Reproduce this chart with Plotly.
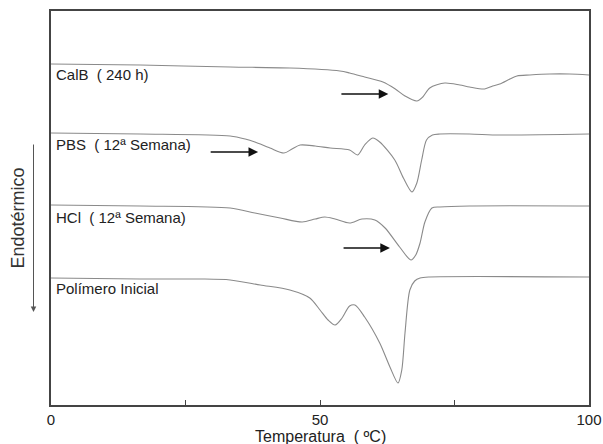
import plotly.graph_objects as go

# Temperature (ºC) and heat flow (arbitrary units, curves stacked)
t_calb = [0, 16.6, 33.3, 44.4, 53.7, 55.5, 58.3, 61.7, 64.0, 65.8, 68.0, 69.1, 70.4, 73.2, 76.0, 77.8, 80.6, 82.1, 83.4, 85.3, 86.6, 89.0, 92.7, 96.4, 100]
y_calb = [341, 340, 338, 337, 334, 332, 328, 323, 316, 309, 304, 308, 317, 322, 320, 318, 316, 319, 321, 326, 329, 330, 331, 331, 330]

t_pbs = [0, 16.6, 33.3, 36.1, 37.9, 40.7, 43.3, 44.8, 46.3, 49.1, 51.9, 55.5, 57.0, 58.3, 59.8, 61.1, 63.9, 65.5, 67.1, 68.0, 68.9, 69.8, 70.9, 72.3, 77.8, 83.4, 100]
y_pbs = [272, 271, 269, 266, 263, 257, 252, 256, 260, 259, 257, 255, 250, 260, 267, 263, 245, 227, 213, 222, 245, 265, 270, 271, 271, 270, 271]

t_hcl = [0, 16.6, 33.3, 37.9, 42.6, 46.7, 49.1, 50.9, 52.8, 55.5, 57.8, 60.2, 62.1, 64.8, 66.9, 67.8, 68.6, 69.5, 70.8, 72.3, 77.8, 100]
y_hcl = [200, 199, 197, 192, 187, 183, 186, 188, 186, 182, 186, 185, 177, 158, 145, 150, 162, 183, 197, 198, 199, 199]

t_ini = [0, 16.6, 27.7, 33.3, 38.9, 44.4, 48.1, 50.0, 51.5, 52.8, 54.1, 55.5, 56.5, 58.3, 61.1, 63.0, 64.5, 65.2, 65.8, 66.7, 67.6, 68.6, 70.4, 100]
y_ini = [127, 126, 126, 125, 120, 115, 107, 95, 85, 80, 87, 99, 100, 88, 62, 38, 22, 35, 72, 115, 124, 127, 128, 128]

labels = ["CalB  ( 240 h)", "PBS  ( 12ª Semana)", "HCl  ( 12ª Semana)", "Polímero Inicial"]
label_y = [331, 261, 188, 117]

# arrows: (start T, end T, level)
arrow_t0 = [53.7, 29.4, 54.1]
arrow_t1 = [62.7, 38.5, 63.0]
arrow_y = [311, 253, 157]

x_tickvals = [0, 25, 50, 75, 100]
x_ticktext = ["0", "", "50", "", "100"]

fig = go.Figure()
for t, y in [(t_calb, y_calb), (t_pbs, y_pbs), (t_hcl, y_hcl), (t_ini, y_ini)]:
    fig.add_trace(go.Scatter(x=t, y=y, mode="lines",
                             line=dict(color="#8a8a8a", width=1.1, shape="spline", smoothing=0.8),
                             showlegend=False, hoverinfo="skip"))

font = "Liberation Sans, Arial, sans-serif"
ann = []
for txt, yy in zip(labels, label_y):
    ann.append(dict(x=0.6, y=yy, xref="x", yref="y", text=txt.replace("  ", "\u00a0\u00a0"),
                    showarrow=False, xanchor="left", yanchor="middle",
                    font=dict(family=font, size=15, color="#222")))
for a0, a1, ay in zip(arrow_t0, arrow_t1, arrow_y):
    ann.append(dict(x=a1, y=ay, ax=a0, ay=ay, xref="x", yref="y", axref="x", ayref="y",
                    text="", showarrow=True, arrowhead=2, arrowsize=1.2, arrowwidth=1.6,
                    arrowcolor="#111"))
# Endotérmico label and arrow
ann.append(dict(x=-0.062, y=0.475, xref="paper", yref="paper", text="Endotérmico",
                textangle=-90, showarrow=False, xanchor="center", yanchor="middle",
                font=dict(family=font, size=18, color="#333")))
ann.append(dict(x=-0.0325, y=0.236, xref="paper", yref="paper", ax=0, ay=-169,
                axref="pixel", ayref="pixel", text="", showarrow=True,
                arrowhead=2, arrowsize=1.1, arrowwidth=1.0, arrowcolor="#555"))
# x-axis title
ann.append(dict(x=0.5, y=-0.081, xref="paper", yref="paper", text="Temperatura\u00a0\u00a0( ºC)",
                showarrow=False, xanchor="center", yanchor="middle",
                font=dict(family=font, size=16, color="#222")))

fig.update_layout(
    width=603, height=444,
    margin=dict(l=50.5, r=13.5, t=11, b=39, autoexpand=False),
    paper_bgcolor="white", plot_bgcolor="white",
    annotations=ann,
    xaxis=dict(range=[0, 100], tickvals=x_tickvals, ticktext=x_ticktext,
               ticks="inside", ticklen=5, tickwidth=1.2, tickcolor="#444",
               showline=True, linecolor="#444", linewidth=1.5, mirror=True,
               showgrid=False, zeroline=False, automargin=False,
               tickfont=dict(family=font, size=15, color="#222")),
    yaxis=dict(range=[0, 394], showticklabels=False, ticks="",
               showline=True, linecolor="#444", linewidth=1.5, mirror=True,
               showgrid=False, zeroline=False, automargin=False),
)

fig.write_html("out.html", config={"displayModeBar": False},
               post_script="document.body.style.margin='0';document.body.style.overflow='hidden';")
